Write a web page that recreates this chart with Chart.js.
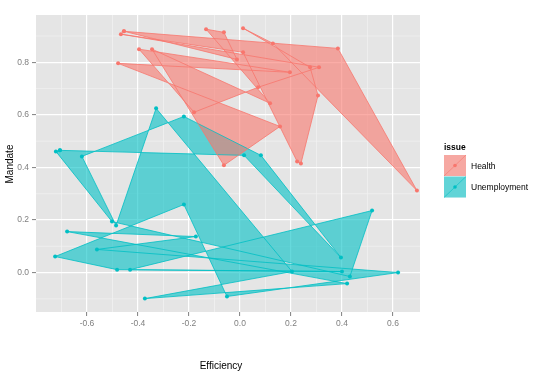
<!DOCTYPE html>
<html><head><meta charset="utf-8">
<script src="https://cdn.jsdelivr.net/npm/chart.js@4/dist/chart.umd.min.js"></script>
<style>html,body{margin:0;padding:0;background:#fff;}canvas{display:block;}</style>
</head><body>
<canvas id="c" width="540" height="378"></canvas>
<script>
const seriesNames = ["Health", "Unemployment"];
const healthX = [-0.455, 0.384, 0.694, 0.129, 0.012, 0.275, 0.306, 0.239, 0.224, 0.012, -0.467, 0.310, 0.071, -0.180, -0.396, 0.196, -0.478, 0.157, -0.063, -0.345, 0.118, -0.133, -0.063, -0.012];
const healthY = [0.918, 0.853, 0.312, 0.872, 0.930, 0.781, 0.674, 0.415, 0.423, 0.838, 0.907, 0.781, 0.705, 0.610, 0.850, 0.762, 0.796, 0.556, 0.408, 0.850, 0.644, 0.926, 0.914, 0.811];
const unempX = [-0.706, 0.016, 0.396, 0.082, -0.220, -0.620, -0.486, -0.329, 0.204, -0.373, 0.420, -0.678, -0.173, -0.561, 0.620, -0.051, -0.220, -0.725, -0.482, 0.400, -0.431, 0.518, 0.431, -0.502, -0.722];
const unempY = [0.465, 0.446, 0.057, 0.446, 0.594, 0.442, 0.179, 0.625, 0.004, -0.099, -0.042, 0.156, 0.137, 0.088, 0.000, -0.091, 0.259, 0.061, 0.011, 0.004, 0.011, 0.236, -0.015, 0.194, 0.461];
const xTicks = [-0.6, -0.4, -0.2, 0.0, 0.2, 0.4, 0.6];
const yTicks = [0.0, 0.2, 0.4, 0.6, 0.8];
const xMinor = [-0.7, -0.5, -0.3, -0.1, 0.1, 0.3, 0.5];
const yMinor = [-0.1, 0.1, 0.3, 0.5, 0.7, 0.9];

const colors = ["#F8766D", "#00BFC4"];
const fills = ["rgba(248,118,109,0.6)", "rgba(0,191,196,0.6)"];
const FONT = "'Liberation Sans', Arial, sans-serif";

function poly(xs, ys) {
  const pts = xs.map((x, i) => ({x: x, y: ys[i]}));
  pts.push({x: xs[0], y: ys[0]});
  return pts;
}

const bgPlugin = {
  id: 'bg',
  beforeDraw(chart) {
    const {ctx, chartArea: a, scales} = chart;
    ctx.save();
    ctx.fillStyle = '#E5E5E5';
    ctx.fillRect(a.left, a.top, a.right - a.left, a.bottom - a.top);
    ctx.strokeStyle = '#F2F2F2';
    ctx.lineWidth = 0.7;
    xMinor.forEach(v => {
      const p = scales.x.getPixelForValue(v);
      if (p > a.left && p < a.right) { ctx.beginPath(); ctx.moveTo(p, a.top); ctx.lineTo(p, a.bottom); ctx.stroke(); }
    });
    yMinor.forEach(v => {
      const p = scales.y.getPixelForValue(v);
      if (p > a.top && p < a.bottom) { ctx.beginPath(); ctx.moveTo(a.left, p); ctx.lineTo(a.right, p); ctx.stroke(); }
    });
    ctx.restore();
  },
  afterDraw(chart) {
    const ctx = chart.ctx;
    ctx.save();
    ctx.fillStyle = '#000';
    ctx.font = '10px ' + FONT;
    ctx.textAlign = 'center';
    ctx.textBaseline = 'middle';
    ctx.fillText('Efficiency', 221, 366);
    ctx.save();
    ctx.translate(10, 164);
    ctx.rotate(-Math.PI / 2);
    ctx.fillText('Mandate', 0, 0);
    ctx.restore();
    // legend
    ctx.textAlign = 'left';
    ctx.font = 'bold 8.5px ' + FONT;
    ctx.fillText('issue', 444, 148);
    ctx.font = '8.5px ' + FONT;
    seriesNames.forEach((name, i) => {
      const x0 = 444, y0 = 155 + i * 21.5, w = 22, h = 21;
      ctx.fillStyle = '#F2F2F2';
      ctx.fillRect(x0, y0, w, h);
      ctx.fillStyle = fills[i];
      ctx.fillRect(x0, y0, w, h);
      ctx.strokeStyle = colors[i];
      ctx.lineWidth = 0.6;
      ctx.beginPath(); ctx.moveTo(x0, y0 + h); ctx.lineTo(x0 + w, y0); ctx.stroke();
      ctx.fillStyle = colors[i];
      ctx.beginPath(); ctx.arc(x0 + w / 2, y0 + h / 2, 1.8, 0, Math.PI * 2); ctx.fill();
      ctx.fillStyle = '#000';
      ctx.fillText(name, 471, y0 + h / 2 + 1);
    });
    ctx.restore();
  }
};

function mkDs(label, xs, ys, i) {
  return {
    label: label,
    data: poly(xs, ys),
    showLine: true,
    fill: 'shape',
    backgroundColor: fills[i],
    borderColor: colors[i],
    borderWidth: 0.8,
    tension: 0,
    pointRadius: 2,
    pointBackgroundColor: colors[i],
    pointBorderWidth: 0
  };
}

new Chart(document.getElementById('c'), {
  type: 'scatter',
  data: {
    datasets: [
      mkDs(seriesNames[0], healthX, healthY, 0),
      mkDs(seriesNames[1], unempX, unempY, 1)
    ]
  },
  options: {
    responsive: false,
    animation: false,
    devicePixelRatio: 1,
    layout: {padding: {left: 0, top: 15, right: 120, bottom: 0}},
    plugins: {
      legend: {display: false},
      tooltip: {enabled: false},
      filler: {drawTime: 'beforeDatasetsDraw'}
    },
    scales: {
      x: {
        type: 'linear', min: -0.8, max: 0.706,
        afterBuildTicks: s => { s.ticks = xTicks.map(v => ({value: v})); },
        afterFit: s => { s.height = 66; },
        grid: {color: '#FFFFFF', lineWidth: 1.2, drawTicks: true, tickLength: 4, tickColor: '#7F7F7F', tickWidth: 1},
        border: {display: false},
        ticks: {color: '#7F7F7F', font: {family: FONT, size: 8.5}, padding: 3, maxRotation: 0,
          callback: v => Number(v).toFixed(1)}
      },
      y: {
        type: 'linear', min: -0.15, max: 0.98,
        afterBuildTicks: s => { s.ticks = yTicks.map(v => ({value: v})); },
        afterFit: s => { s.width = 36; },
        grid: {color: '#FFFFFF', lineWidth: 1.2, drawTicks: true, tickLength: 4, tickColor: '#7F7F7F', tickWidth: 1},
        border: {display: false},
        ticks: {color: '#7F7F7F', font: {family: FONT, size: 8.5}, padding: 3,
          callback: v => Number(v).toFixed(1)}
      }
    }
  },
  plugins: [bgPlugin]
});
</script>
</body></html>
